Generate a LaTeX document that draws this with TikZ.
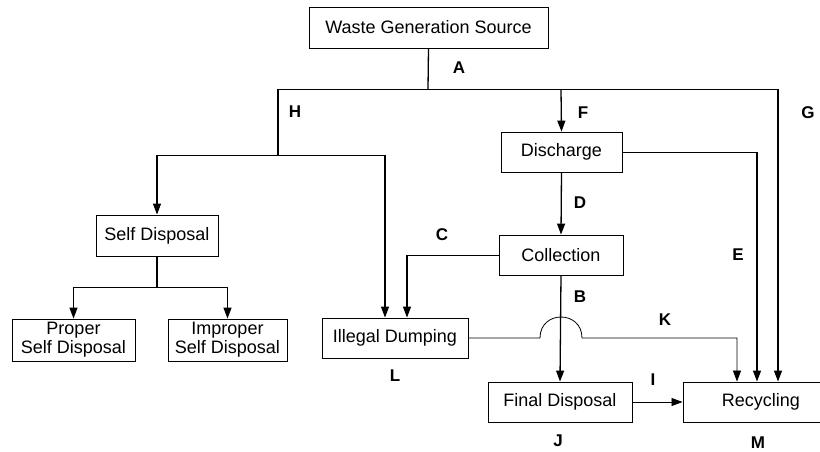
\documentclass[tikz,border=0pt]{standalone}
\usepackage{fontspec}
\setmainfont{Liberation Sans}
\usetikzlibrary{arrows.meta}
\tikzset{
  box/.style={draw, line width=0.9pt, inner sep=0pt, align=center, font=\fontsize{18}{19}\selectfont},
  conn/.style={line width=1.3pt},
  hconn/.style={line width=0.8pt},
  thinconn/.style={line width=0.8pt},
  arr/.style={-{Triangle[length=11pt,width=8pt]}},
  lbl/.style={font=\fontsize{17}{19}\selectfont\bfseries, inner sep=0pt}
}
\begin{document}
\begin{tikzpicture}[x=1pt,y=-1pt]
\useasboundingbox (0,0) rectangle (820,451);
\clip (0,0) rectangle (820,451);
% boxes
\node[box, minimum width=239pt, minimum height=41pt] (ws) at (428.5,27.5) {Waste Generation Source};
\node[box, minimum width=121pt, minimum height=40pt] (dis) at (561.5,152) {Discharge};
\node[box, minimum width=124pt, minimum height=40pt] (col) at (561,255) {Collection};
\node[box, minimum width=122pt, minimum height=41pt] (sd) at (157,235.5) {Self Disposal};
\node[box, minimum width=123pt, minimum height=42pt] (psd) at (73.5,340) {Proper\\Self Disposal};
\node[box, minimum width=119pt, minimum height=42pt] (isd) at (227.5,340) {Improper\\Self Disposal};
\node[box, minimum width=146pt, minimum height=40pt] (ild) at (395,338) {Illegal Dumping};
\node[box, minimum width=144pt, minimum height=40pt] (fd) at (560,402) {Final Disposal};
\node[box, minimum width=156pt, minimum height=40pt] (rec) at (761,402) {Recycling};
% junctions
\coordinate (jA) at (428,89);
\coordinate (jH) at (278,89);
\coordinate (jF) at (561,89);
\coordinate (jG) at (778,89);
\coordinate (hB) at (278,155);
\coordinate (hL) at (157,155);
\coordinate (hR) at (385,155);
\coordinate (sJ) at (157,287);
\coordinate (sL) at (73.5,287);
\coordinate (sR) at (227.5,287);
\coordinate (eC) at (757,152);
\coordinate (cC) at (407,255);
\coordinate (k1) at (540,338);
\coordinate (k2) at (582,338);
\coordinate (k3) at (737,338);
% connectors
\draw[conn] (ws.south) -- (jA);
\draw[hconn] (jH) -- (jG);
\draw[conn, arr] (jG) -- (jG |- rec.north);
\draw[conn, arr] (jF) -- (dis.north);
\draw[conn] (jH) -- (hB);
\draw[hconn] (hL) -- (hR);
\draw[conn, arr] (hL) -- (sd.north);
\draw[conn, arr] (hR) -- (hR |- ild.north);
\draw[hconn] (dis.east) -- (eC);
\draw[conn, arr] (eC) -- (eC |- rec.north);
\draw[conn, arr] (dis.south) -- (col.north);
\draw[hconn] (col.west) -- (cC);
\draw[conn, arr] (cC) -- (cC |- ild.north);
\draw[conn, arr] (col.south) -- (fd.north);
\draw[thinconn, arr] (ild.east) -- (k1) .. controls (540,310) and (582,310) .. (k2) -- (k3) -- (k3 |- rec.north);
\draw[thinconn, arr] (fd.east) -- (rec.west);
\draw[conn] (sd.south) -- (sJ);
\draw[hconn] (sL) -- (sR);
\draw[conn, arr] (sL) -- (psd.north);
\draw[conn, arr] (sR) -- (isd.north);
% labels
\node[lbl] (lA) at (459,68) {A};
\node[lbl] (lH) at (295,112) {H};
\node[lbl] (lF) at (583,113) {F};
\node[lbl] (lG) at (808,113) {G};
\node[lbl] (lD) at (580,203) {D};
\node[lbl] (lC) at (442,235) {C};
\node[lbl] (lE) at (738,255) {E};
\node[lbl] (lB) at (580,297) {B};
\node[lbl] (lK) at (665,320) {K};
\node[lbl] (lL) at (395,376) {L};
\node[lbl] (lI) at (653,380) {I};
\node[lbl] (lJ) at (558,441) {J};
\node[lbl] (lM) at (758,443) {M};
\end{tikzpicture}
\end{document}
